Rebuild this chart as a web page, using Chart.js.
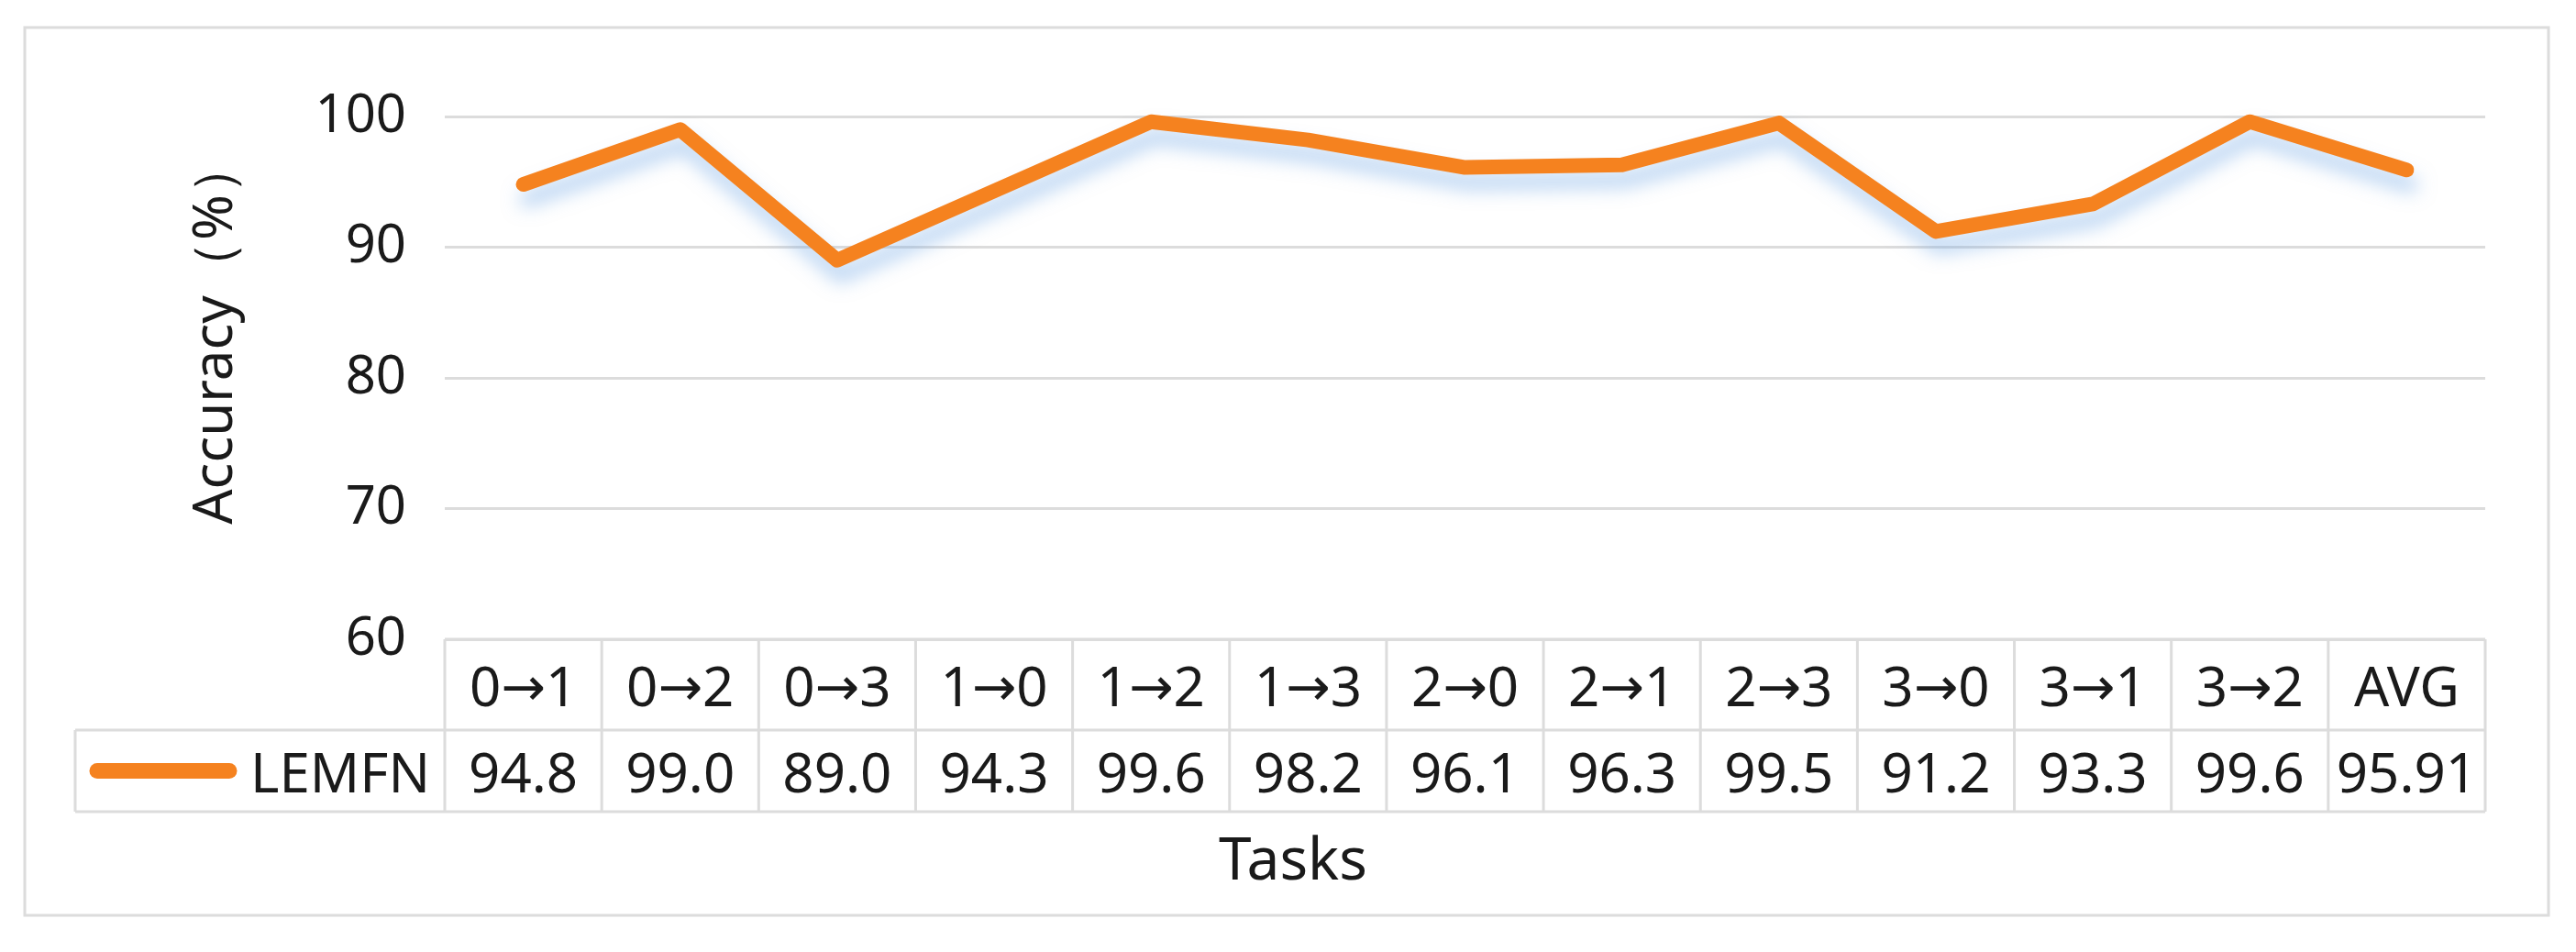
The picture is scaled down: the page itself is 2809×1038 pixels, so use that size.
<!DOCTYPE html>
<html>
<head>
<meta charset="utf-8">
<script src="https://cdn.jsdelivr.net/npm/chart.js@4.4.1/dist/chart.umd.min.js"></script>
<style>
  html, body { margin: 0; padding: 0; background: #fff; }
</style>
</head>
<body>
<canvas id="accChart" width="2809" height="1038"></canvas>
<script>
// data
const tasks = ['0→1', '0→2', '0→3', '1→0', '1→2', '1→3', '2→0', '2→1', '2→3', '3→0', '3→1', '3→2', 'AVG'];
const accuracy = [94.8, 99.0, 89.0, 94.3, 99.6, 98.2, 96.1, 96.3, 99.5, 91.2, 93.3, 99.6, 95.91];
const yTicks = [60, 70, 80, 90, 100];
const seriesName = 'LEMFN';

const ORANGE = '#F5821F';
const GRID = '#dcdcdc';
const TEXT = '#1a1a1a';
const FONT = '"Noto Sans", "Open Sans", sans-serif';
const ARROW_FONT = '"DejaVu Sans", sans-serif';

function fmt(v) {
    return Math.abs(v * 10 - Math.round(v * 10)) < 1e-9 ? v.toFixed(1) : v.toFixed(2);
}

// task label: digits in the main font, arrow in a font with a long shaft
function drawTask(ctx, text, cx, baseline) {
    const parts = text.split('→');
    ctx.save();
    ctx.textAlign = 'left';
    ctx.textBaseline = 'alphabetic';
    if (parts.length !== 2) {
        ctx.font = '60px ' + FONT;
        ctx.textAlign = 'center';
        ctx.fillText(text, cx, baseline);
        ctx.restore();
        return;
    }
    const digitFont = '60px ' + FONT;
    const arrowFont = '58px ' + ARROW_FONT;
    ctx.font = digitFont;
    const wa = ctx.measureText(parts[0]).width;
    const wb = ctx.measureText(parts[1]).width;
    ctx.font = arrowFont;
    const wArrow = ctx.measureText('→').width;
    let x = cx - (wa + wArrow + wb) / 2;
    ctx.font = digitFont;
    ctx.fillText(parts[0], x, baseline);
    x += wa;
    ctx.font = arrowFont;
    ctx.fillText('→', x, baseline - 1);
    x += wArrow;
    ctx.font = digitFont;
    ctx.fillText(parts[1], x, baseline);
    ctx.restore();
}

// outer frame + axis titles
const framePlugin = {
    id: 'frame',
    beforeDraw(chart) {
        const ctx = chart.ctx;
        ctx.save();
        ctx.fillStyle = '#fff';
        ctx.fillRect(0, 0, chart.width, chart.height);
        ctx.strokeStyle = GRID;
        ctx.lineWidth = 3;
        ctx.strokeRect(27, 30, 2752, 968);
        ctx.restore();
    },
    afterDraw(chart) {
        const ctx = chart.ctx;
        ctx.save();
        ctx.fillStyle = TEXT;
        ctx.textAlign = 'center';
        ctx.textBaseline = 'middle';
        ctx.font = '64px ' + FONT;
        ctx.fillText('Tasks', 1410, 941);

        ctx.translate(236, 362);
        ctx.rotate(-Math.PI / 2);
        ctx.font = '60px ' + FONT;
        ctx.fillText('Accuracy（%）', 0, 0);
        ctx.restore();
    }
};

// soft bluish shadow under the line
const shadowPlugin = {
    id: 'lineShadow',
    beforeDatasetsDraw(chart) {
        const ctx = chart.ctx;
        ctx.save();
        ctx.shadowColor = 'rgba(110, 165, 230, 0.5)';
        ctx.shadowBlur = 20;
        ctx.shadowOffsetX = 4;
        ctx.shadowOffsetY = 16;
    },
    afterDatasetsDraw(chart) {
        chart.ctx.restore();
    }
};

// data table under the plot
const tablePlugin = {
    id: 'dataTable',
    afterDraw(chart) {
        const ctx = chart.ctx;
        const x = chart.scales.x;
        const y = chart.scales.y;
        const colW = x.getPixelForValue(1) - x.getPixelForValue(0);
        const left = x.getPixelForValue(0) - colW / 2;
        const right = x.getPixelForValue(tasks.length - 1) + colW / 2;
        const top = y.getPixelForValue(yTicks[0]);
        const mid = top + 99;
        const bottom = mid + 89;
        const legendLeft = 82;

        ctx.save();
        ctx.strokeStyle = GRID;
        ctx.lineWidth = 3;
        ctx.beginPath();
        ctx.moveTo(left, top); ctx.lineTo(right, top);
        ctx.moveTo(legendLeft, mid); ctx.lineTo(right, mid);
        ctx.moveTo(legendLeft, bottom); ctx.lineTo(right, bottom);
        ctx.moveTo(legendLeft, mid); ctx.lineTo(legendLeft, bottom);
        for (let i = 0; i <= tasks.length; i++) {
            const cx = left + i * colW;
            ctx.moveTo(cx, top); ctx.lineTo(cx, bottom);
        }
        ctx.stroke();

        ctx.fillStyle = TEXT;
        const row1Base = (top + mid) / 2 + 23;
        const row2Base = (mid + bottom) / 2 + 23;
        tasks.forEach((t, i) => {
            const cx = x.getPixelForValue(i);
            drawTask(ctx, t, cx, row1Base);
            ctx.font = '60px ' + FONT;
            ctx.textAlign = 'center';
            ctx.textBaseline = 'alphabetic';
            ctx.fillText(fmt(accuracy[i]), cx, row2Base);
        });

        // legend key
        ctx.textAlign = 'right';
        ctx.fillText(seriesName, left - 16, row2Base);
        ctx.strokeStyle = ORANGE;
        ctx.lineWidth = 17;
        ctx.lineCap = 'round';
        ctx.beginPath();
        ctx.moveTo(106, (mid + bottom) / 2);
        ctx.lineTo(250, (mid + bottom) / 2);
        ctx.stroke();
        ctx.restore();
    }
};

new Chart(document.getElementById('accChart'), {
    type: 'line',
    data: {
        labels: tasks,
        datasets: [{
            label: seriesName,
            data: accuracy,
            borderColor: ORANGE,
            backgroundColor: ORANGE,
            borderWidth: 16,
            borderCapStyle: 'round',
            borderJoinStyle: 'round',
            pointRadius: 0,
            tension: 0,
            clip: false
        }]
    },
    options: {
        responsive: false,
        animation: false,
        layout: {
            padding: { left: 0, top: 127, right: 99, bottom: 341 }
        },
        plugins: {
            legend: { display: false },
            tooltip: { enabled: false }
        },
        scales: {
            x: {
                display: false,
                offset: true
            },
            y: {
                min: 60,
                max: 100,
                afterFit(scale) { scale.width = 485; },
                border: { display: false },
                grid: {
                    color: GRID,
                    lineWidth: 3,
                    drawTicks: false
                },
                ticks: {
                    stepSize: 10,
                    padding: 42,
                    color: TEXT,
                    font: { family: FONT, size: 58 }
                }
            }
        }
    },
    plugins: [framePlugin, shadowPlugin, tablePlugin]
});
</script>
</body>
</html>
